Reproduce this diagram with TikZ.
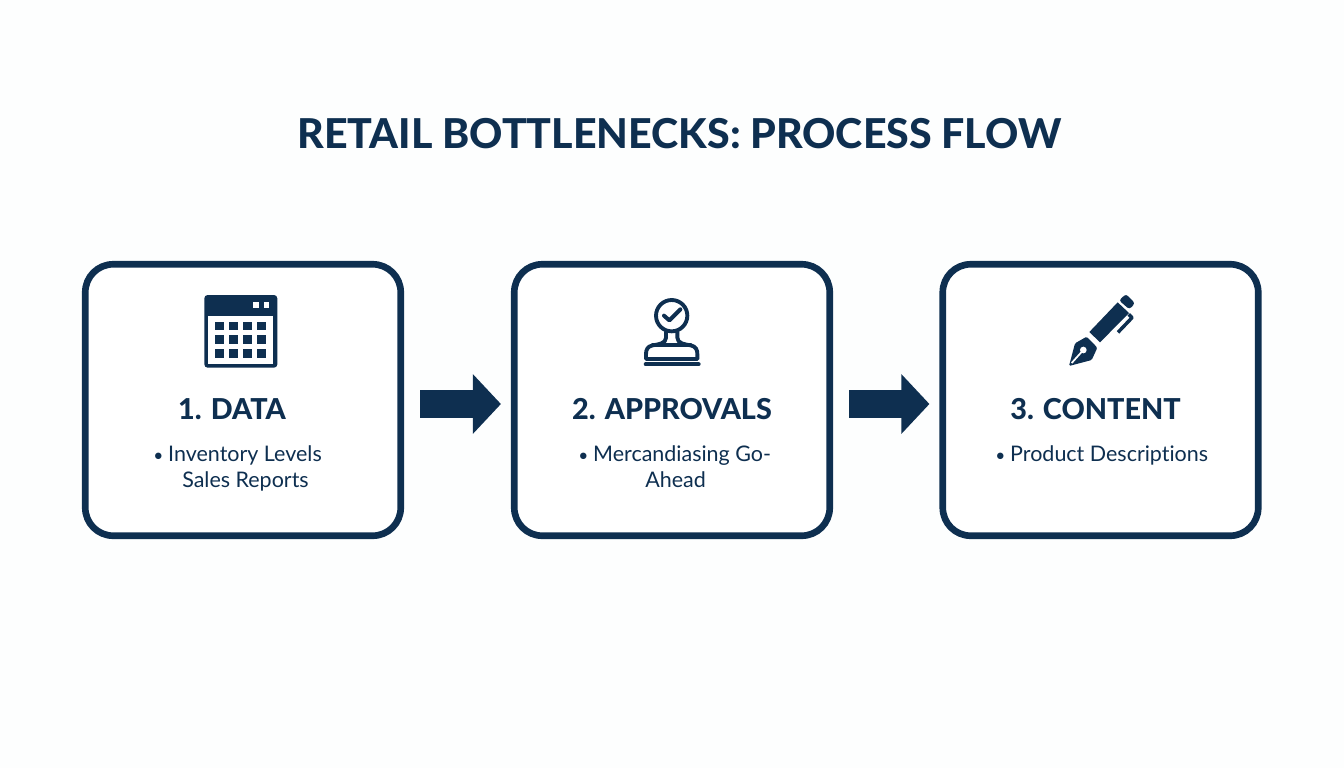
\documentclass[tikz,border=0pt]{standalone}
\usepackage{fontspec}
\setmainfont[Ligatures={NoCommon}]{Lato}
\newfontfamily\titlefont[Ligatures={NoCommon}]{Lato Heavy}
\usetikzlibrary{arrows.meta}
\definecolor{navy}{HTML}{0E2F50}
\definecolor{paper}{HTML}{FDFEFE}
\newcommand{\dotmark}{\makebox[11.2pt][l]{\fontsize{13pt}{13pt}\selectfont •}}
\tikzset{
  panel/.style={draw=navy,line width=5pt,rounded corners=21pt,fill=white,minimum width=236.6pt,minimum height=203.6pt,outer sep=2.5pt,inner sep=0pt},
  flow/.style={navy,line width=21pt,-{Triangle[length=21pt,width=43.5pt]},shorten <=12pt,shorten >=7.5pt},
  heading/.style={anchor=base,text=navy,font=\fontsize{21.6pt}{24pt}\selectfont\titlefont,inner sep=0pt},
  bodytext/.style={anchor=base west,text=navy,font=\fontsize{16.1pt}{19pt}\selectfont,inner sep=0pt},
  icon/.style={shift={#1},x=.25pt,y=-.25pt}
}
\begin{document}
\begin{tikzpicture}[x=.75pt,y=-.75pt]
\fill[paper] (0,0) rectangle (1344,768);
\useasboundingbox (0,0) rectangle (1344,768);
\node[anchor=base,text=navy,font=\fontsize{30.85pt}{36pt}\selectfont\titlefont,inner sep=0pt] (title) at (679.5,148) {RETAIL BOTTLENECKS: PROCESS FLOW};
\node[panel] (b1) at (243,400) {};
\node[panel] (b2) at (672,400) {};
\node[panel] (b3) at (1100.5,400) {};
\draw[flow] ([yshift=-3pt]b1.east) -- ([yshift=-3pt]b2.west);
\draw[flow] ([yshift=-3pt]b2.east) -- ([yshift=-3pt]b3.west);
% calendar
\begin{scope}[icon={(190,285)}]
\fill[navy,rounded corners=2.5pt] (43,30) rectangle (262,248);
\fill[white] (55,92) rectangle (250,237);
\foreach \a in {76,117,160,202}\foreach \b in {110,151,192}\fill[navy] (\a,\b) rectangle ++(26,26);
\fill[white] (190,52) rectangle (206,69);
\fill[white] (222,52) rectangle (238,69);
\end{scope}
% stamp
\begin{scope}[icon={(630,285)},line width=2.9pt,draw=navy,line cap=round,line join=round]
\draw[navy] (125,92) circle[radius=47];
\draw[navy,line width=3pt] (102,92) -- (118,106) -- (151,73);
\draw[navy] (108,140) -- (108,158) .. controls (108,176) and (85,178) .. (68,181)
  .. controls (52,184) and (48,195) .. (48,207) -- (48,222) -- (202,222) -- (202,207)
  .. controls (202,195) and (198,184) .. (182,181) .. controls (165,178) and (142,176) .. (142,158) -- (142,140);
\draw[navy] (68,181) -- (182,181);
\draw[navy] (47,238) -- (206,238);
\end{scope}
% pen
\begin{scope}[icon={(1055,285)}]
\fill[navy,rounded corners=2pt] (192,46) -- (213,27) -- (240,55) -- (223,73) -- cycle;
\fill[navy] (188,52) -- (222,84) -- (135,172) -- (103,141) -- cycle;
\draw[navy,line width=2.6pt,line join=round] (221,88) -- (231,98) -- (189,142);
\fill[navy,rounded corners=1pt] (95,155) -- (127,188) -- (110,225) -- (42,243) -- (60,175) -- cycle;
\fill[white] (85,195) circle[radius=10];
\draw[white,line width=1.3pt] (85,195) -- (50,234);
\end{scope}
\node[heading] (h1) at (232,419) {1. DATA};
\node[heading] (h2) at (672,419) {2. APPROVALS};
\node[heading] (h3) at (1095.5,419) {3. CONTENT};
\node[bodytext] (t1a) at (153,461) {\dotmark Inventory Levels};
\node[bodytext] (t1b) at (182,487) {Sales Reports};
\node[bodytext] (t2a) at (578,461) {\dotmark Mercandiasing Go-};
\node[bodytext] (t2b) at (645,487) {Ahead};
\node[bodytext] (t3a) at (995,461) {\dotmark Product Descriptions};
\end{tikzpicture}
\end{document}
